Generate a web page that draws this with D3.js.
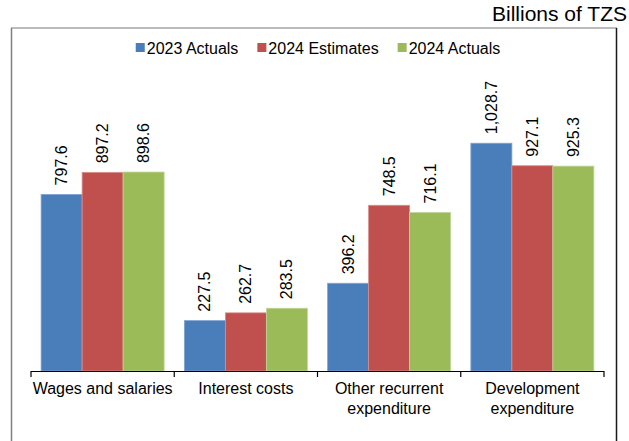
<!DOCTYPE html>
<html><head><meta charset="utf-8">
<script src="https://cdn.jsdelivr.net/npm/d3@7"></script>
<style>html,body{margin:0;padding:0;background:#fff;} svg{display:block;font-family:"Liberation Sans",Arial,sans-serif;}</style>
</head><body>
<svg id="c" width="629" height="441"></svg>
<script>
const categories = [["Wages and salaries"], ["Interest costs"], ["Other recurrent", "expenditure"], ["Development", "expenditure"]];
const seriesNames = ["2023 Actuals", "2024 Estimates", "2024 Actuals"];
const actuals2023 = [797.6, 227.5, 396.2, 1028.7];
const estimates2024 = [897.2, 262.7, 748.5, 927.1];
const actuals2024 = [898.6, 283.5, 716.1, 925.3];
const unitLabel = "Billions of TZS";

const seriesValues = [actuals2023, estimates2024, actuals2024];
const colors = ["#4a7ebb", "#c0504d", "#9bbb59"];
const strokes = ["#7fa3d1", "#d8908e", "#c0d69a"];

const svg = d3.select("#c");

// frame
svg.append("line").attr("x1", 11).attr("x2", 617).attr("y1", 28).attr("y2", 28).attr("stroke", "#a6a6a6").attr("stroke-width", 1.5);
svg.append("line").attr("x1", 11.5).attr("x2", 11.5).attr("y1", 28).attr("y2", 441).attr("stroke", "#808080").attr("stroke-width", 1.5);
svg.append("line").attr("x1", 616.5).attr("x2", 616.5).attr("y1", 28).attr("y2", 441).attr("stroke", "#1a1a1a").attr("stroke-width", 1.5);

svg.append("text").attr("x", 627).attr("y", 21).attr("text-anchor", "end").attr("font-size", 21).attr("fill", "#000").text(unitLabel);

const x0 = d3.scaleBand().domain(d3.range(categories.length)).range([31, 604]).paddingInner(0).paddingOuter(0);
const x1 = d3.scaleBand().domain(d3.range(seriesNames.length)).range([0, x0.bandwidth()]).paddingInner(0).paddingOuter(0.247);
const y = d3.scaleLinear().domain([0, 1200]).range([371, 105.3]);

const g = svg.append("g");
categories.forEach((cat, ci) => {
  seriesValues.forEach((vals, si) => {
    const bx = x0(ci) + x1(si);
    const v = vals[ci];
    g.append("rect").attr("x", bx).attr("y", y(v)).attr("width", x1.bandwidth()).attr("height", y(0) - y(v))
      .attr("fill", colors[si]).attr("stroke", strokes[si]).attr("stroke-width", 0.8);
    const cx = bx + x1.bandwidth() / 2;
    g.append("text").attr("transform", `translate(${cx},${y(v) - 9}) rotate(-90)`)
      .attr("text-anchor", "start").attr("dominant-baseline", "central").attr("font-size", 16).attr("fill", "#000")
      .text(d3.format(",.1f")(v));
  });
});

// axis
const ax = svg.append("g");
ax.append("line").attr("x1", 31).attr("x2", 604).attr("y1", 371.5).attr("y2", 371.5).attr("stroke", "#000").attr("stroke-width", 1.2);
d3.range(categories.length + 1).forEach(i => {
  const tx = i < categories.length ? x0(i) : x0(categories.length - 1) + x0.bandwidth();
  ax.append("line").attr("x1", tx).attr("x2", tx).attr("y1", 371).attr("y2", 377).attr("stroke", "#000").attr("stroke-width", 1.2);
});
categories.forEach((lines, ci) => {
  const t = ax.append("text").attr("text-anchor", "middle").attr("font-size", 16).attr("fill", "#000");
  lines.forEach((ln, li) => {
    t.append("tspan").attr("x", x0(ci) + x0.bandwidth() / 2).attr("y", 394 + li * 19.5).text(ln);
  });
});

// legend
const lg = svg.append("g");
let lx = 0;
seriesNames.forEach((n, i) => {
  const it = lg.append("g").attr("transform", `translate(${lx},0)`);
  it.append("rect").attr("x", 0).attr("y", -5).attr("width", 9).attr("height", 9).attr("fill", colors[i]);
  const t = it.append("text").attr("x", 11).attr("y", 0).attr("dominant-baseline", "central").attr("font-size", 16).attr("fill", "#000").text(n);
  lx += 11 + t.node().getComputedTextLength() + 19;
});
const total = lx - 19;
lg.attr("transform", `translate(${318 - total / 2},48)`);
</script>
</body></html>
